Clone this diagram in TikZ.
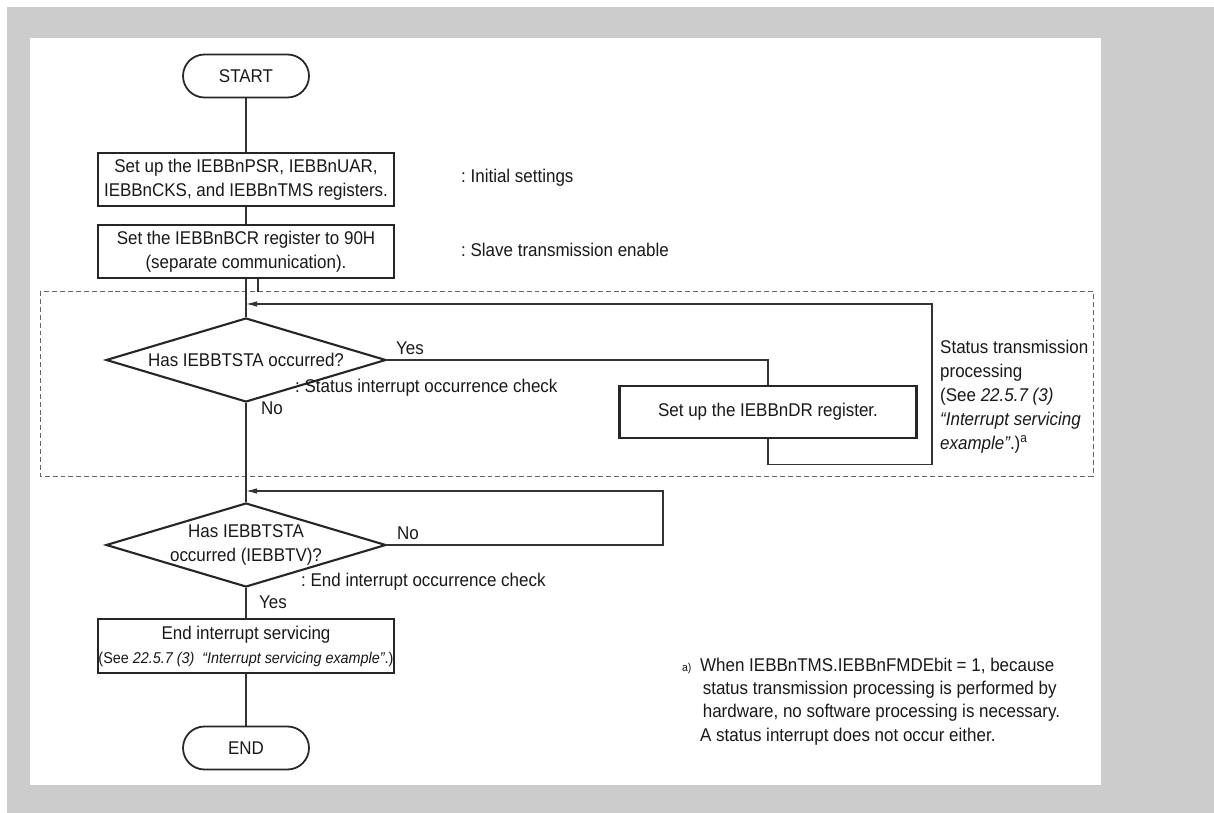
\documentclass[tikz,border=0pt]{standalone}
\usepackage{fontspec}
\setmainfont[FakeStretch=0.92]{Liberation Sans}
\usetikzlibrary{shapes.geometric, arrows.meta, positioning, calc}
\definecolor{framegray}{RGB}{204,204,204}
\frenchspacing

\begin{document}
\begin{tikzpicture}[
    x=0.02cm, y=-0.02cm,
    every node/.style={font=\fontsize{10.5}{13.6}\selectfont, text=black!90},
    terminal/.style={rectangle, draw=black!85, line width=1pt, rounded corners=0.43cm, minimum width=2.52cm, minimum height=0.86cm, inner sep=0pt},
    proc/.style={rectangle, draw=black!85, line width=1.2pt, minimum width=5.92cm, minimum height=1.06cm, align=center, inner sep=0pt},
    decision/.style={diamond, draw=black!85, line width=1.2pt, minimum width=5.6cm, minimum height=1.68cm, inner sep=0pt},
    flow/.style={line width=0.6pt, draw=black!80},
    back/.style={flow, -{Latex[length=2.2mm, width=1.1mm]}},
    note/.style={anchor=west, align=left},
    group/.style={draw=black!60, dash pattern=on 2.8pt off 1.7pt, line width=0.5pt}
]
% Frame
\useasboundingbox (0,0) rectangle (1214,813);
\fill[framegray] (7,7) rectangle (1214,813);
\fill[white] (30,38) rectangle (1101,785);

% Status transmission block
\draw[group] (40,291) rectangle (1093,476);

% Flow steps
\node[terminal] (start) at (246,76) {START};
\node[proc] (init) at (246,179.5) {Set up the IEBBnPSR, IEBBnUAR,\\IEBBnCKS, and IEBBnTMS registers.};
\node[proc] (bcr) at (246,251.5) {Set the IEBBnBCR register to 90H\\(separate communication).};
\node[decision, label={[align=center]center:Has IEBBTSTA occurred?}] (chk1) at (246,360) {};
\node[proc, minimum width=5.94cm, minimum height=1.04cm] (dr) at (768,412) {Set up the IEBBnDR register.};
\node[decision, label={[align=center]center:Has IEBBTSTA\\occurred (IEBBTV)?}] (chk2) at (246,545) {};
\node[proc, minimum height=1.08cm] (isr) at (246,646) {End interrupt servicing\\{\fontsize{8.9}{10}\selectfont (See \textit{22.5.7 (3)}\ \ \textit{“Interrupt servicing example”}.)}};
\node[terminal] (end) at (246,748) {END};

% Branch labels
\node (yes1) at (410,348) {Yes};
\node (no1) at (272,408) {No};
\node (no2) at (408,533) {No};
\node (yes2) at (273,602) {Yes};

% Side notes
\node[note] (initnote) at (455,178) {: Initial settings};
\node[note] (bcrnote) at (455,250) {: Slave transmission enable};
\node[note] (chk1note) at (289,388) {: Status interrupt occurrence check};
\node[note] (chk2note) at (295,582) {: End interrupt occurrence check};
\node[anchor=north west, align=left] (statnote) at (934,334) {Status transmission\\processing\\(See \textit{22.5.7 (3)}\\\textit{“Interrupt servicing}\\\textit{example”}.)\textsuperscript{a}};
\node[anchor=north west, align=left, font=\fontsize{10.5}{13.2}\selectfont] (footnote) at (694,652) {\llap{\fontsize{6.5}{6.5}\selectfont a)\hspace{5pt}}When IEBBnTMS.IEBBnFMDEbit = 1, because\\\hspace*{1.5pt}status transmission processing is performed by\\\hspace*{1.5pt}hardware, no software processing is necessary.\\A status interrupt does not occur either.};

% Connectors
\coordinate (j1) at (246,304);
\coordinate (j2) at (246,491);
\coordinate (c1) at (932,304);
\coordinate (c2) at (663,491);
\draw[flow] (start) -- (init);
\draw[flow] (init) -- (bcr);
\draw[flow] (bcr) -- (chk1);
\draw[flow] (chk1) -- (chk2);
\draw[flow] (chk2) -- (isr);
\draw[flow] (isr) -- (end);
\draw[flow] ($(bcr.south)+(12,0)$) -- ++(0,13);

% Loops
\draw[flow] (chk1.east) -| (dr.north);
\draw[back] (dr.south) -- ++(0,25) -| (c1) -- (j1);
\draw[back] (chk2.east) -| (c2) -- (j2);
\end{tikzpicture}
\end{document}
